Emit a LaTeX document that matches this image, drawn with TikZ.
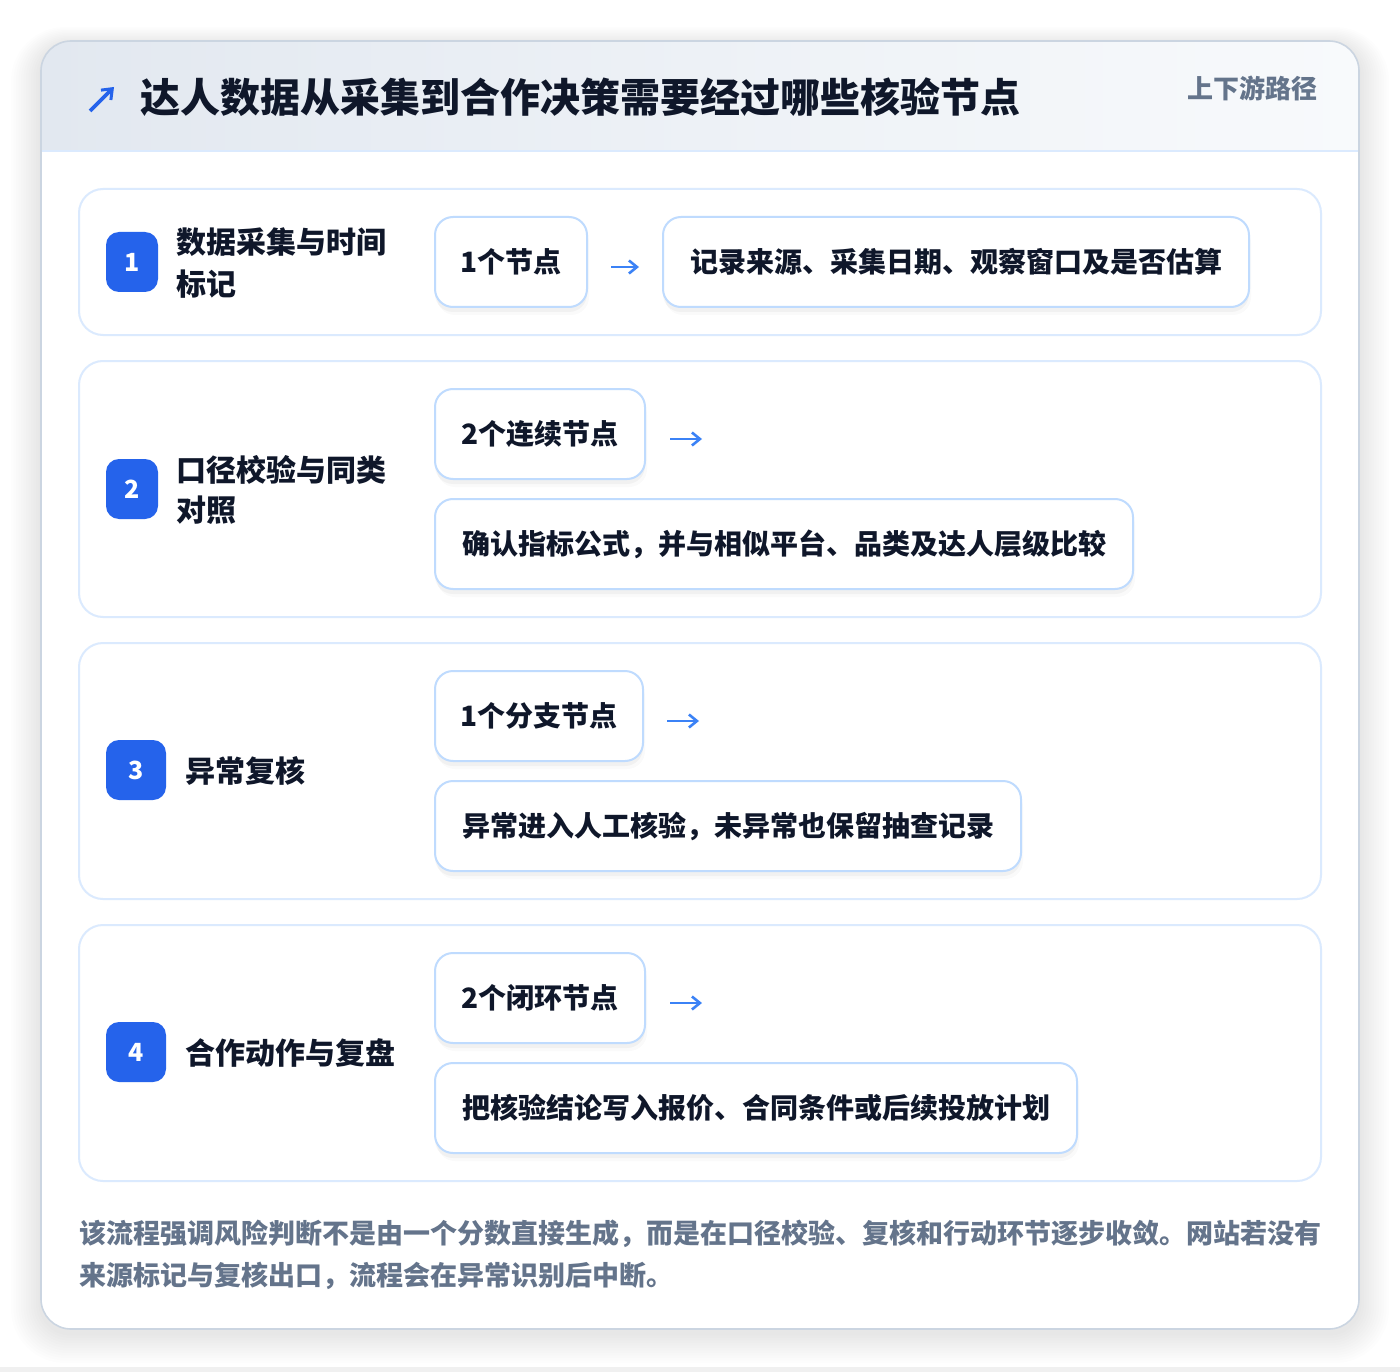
\documentclass[tikz,border=0pt]{standalone}
\usepackage{fontspec}
\setmainfont{Noto Sans CJK SC}
\usetikzlibrary{arrows.meta,shadows}
\definecolor{ink}{HTML}{0F172A}
\definecolor{slate}{HTML}{64748B}
\definecolor{brand}{HTML}{2563EB}
\definecolor{arrowblue}{HTML}{3B82F6}
\definecolor{rowline}{HTML}{DBEAFE}
\definecolor{nodeline}{HTML}{BFDBFE}
\definecolor{cardline}{HTML}{CBD5E1}
\definecolor{headl}{HTML}{E2E8F0}
\definecolor{headr}{HTML}{F8FAFC}
\tikzset{
  rowbox/.style={draw=rowline, line width=2pt, fill=white, rounded corners=24pt, inner sep=0pt},
  badge/.style={fill=brand, rounded corners=13pt, text=white, inner sep=0pt,
    font=\fontsize{25pt}{28pt}\selectfont\bfseries, minimum height=60pt},
  lbl/.style={anchor=base west, inner sep=0pt, text=ink, font=\fontsize{30pt}{36pt}\selectfont\bfseries},
  stepnode/.style={draw=nodeline, line width=2pt, fill=white, rounded corners=18pt, inner sep=0pt,
    minimum height=90pt, text=ink, font=\fontsize{28pt}{34pt}\selectfont\bfseries,
    drop shadow={shadow xshift=0pt, shadow yshift=-5pt, opacity=0.035, fill=black},
    drop shadow={shadow xshift=2pt, shadow yshift=-8pt, opacity=0.02, fill=black}},
  flowarrow/.style={draw=arrowblue, line width=2.8pt, -{Straight Barb[length=8pt,width=13pt,line width=2.6pt]}},
  foot/.style={anchor=base west, inner sep=0pt, text=slate, font=\fontsize{27pt}{32pt}\selectfont\bfseries},
}
\begin{document}
\begin{tikzpicture}[x=1pt,y=-1pt]
\useasboundingbox (0,0) rectangle (1400,1372);
\fill[white] (0,0) rectangle (1400,1372);
\fill[color=black!6] (0,1367) rectangle (1400,1372);
% card shadow
\foreach \i in {1,...,12}{
  \fill[black, opacity=0.006, rounded corners={30pt+\i*2pt}]
    (41-\i*2.5,41-\i*1.5+4) rectangle (1359+\i*2.5,1329+\i*2.5+4);
}
% card
\path[fill=white, rounded corners=30pt] (41,41) rectangle (1359,1329);
\begin{scope}
  \clip[rounded corners=30pt] (41,41) rectangle (1359,1329);
  \shade[left color=headl, right color=headr] (41,41) rectangle (1359,151);
  \draw[rowline, line width=2pt] (41,151) -- (1359,151);
\end{scope}
\draw[cardline, line width=1.6pt, rounded corners=30pt] (41,41) rectangle (1359,1329);

% header
\draw[brand, line width=3.6pt, -{Straight Barb[length=9pt,width=14pt,line width=3pt]}] (90,111) -- (114,87);
\node[anchor=base west, inner sep=0pt, text=ink, font=\fontsize{40pt}{46pt}\selectfont\bfseries] (title) at (140,113) {达人数据从采集到合作决策需要经过哪些核验节点};
\node[anchor=base east, inner sep=0pt, text=slate, font=\fontsize{26pt}{30pt}\selectfont\bfseries] (tag) at (1318,99) {上下游路径};

% rows
\node[rowbox, minimum width=1242pt, minimum height=146pt] (r1) at (700,262) {};
\node[rowbox, minimum width=1242pt, minimum height=256pt] (r2) at (700,489) {};
\node[rowbox, minimum width=1242pt, minimum height=256pt] (r3) at (700,771) {};
\node[rowbox, minimum width=1242pt, minimum height=256pt] (r4) at (700,1053) {};

% badges
\node[badge, minimum width=52pt] (b1) at (132,262) {1};
\node[badge, minimum width=52pt] (b2) at (132,489) {2};
\node[badge, minimum width=60pt] (b3) at (136,770) {3};
\node[badge, minimum width=60pt] (b4) at (136,1052) {4};

% labels
\node[lbl] (l1a) at (176,254) {数据采集与时间};
\node[lbl] (l1b) at (176,295) {标记};
\node[lbl] (l2a) at (176,481) {口径校验与同类};
\node[lbl] (l2b) at (176,521) {对照};
\node[lbl] (l3) at (185,782) {异常复核};
\node[lbl] (l4) at (185,1064) {合作动作与复盘};

% step nodes
\node[stepnode, minimum width=152pt] (n1a) at (511,262) {1个节点};
\node[stepnode, minimum width=586pt] (n1b) at (956,262) {记录来源、采集日期、观察窗口及是否估算};
\node[stepnode, minimum width=210pt] (n2a) at (540,434) {2个连续节点};
\node[stepnode, minimum width=698pt] (n2b) at (784,544) {确认指标公式，并与相似平台、品类及达人层级比较};
\node[stepnode, minimum width=208pt] (n3a) at (539,716) {1个分支节点};
\node[stepnode, minimum width=586pt] (n3b) at (728,826) {异常进入人工核验，未异常也保留抽查记录};
\node[stepnode, minimum width=210pt] (n4a) at (540,998) {2个闭环节点};
\node[stepnode, minimum width=642pt] (n4b) at (756,1108) {把核验结论写入报价、合同条件或后续投放计划};

% arrows
\draw[flowarrow] ([xshift=23pt,yshift=-5pt]n1a.east) -- ([xshift=-23pt,yshift=-5pt]n1b.west);
\coordinate (e2) at ([xshift=56pt,yshift=-5pt]n2a.east);
\coordinate (e3) at ([xshift=55pt,yshift=-5pt]n3a.east);
\coordinate (e4) at ([xshift=56pt,yshift=-5pt]n4a.east);
\draw[flowarrow] ([xshift=24pt,yshift=-5pt]n2a.east) -- (e2);
\draw[flowarrow] ([xshift=23pt,yshift=-5pt]n3a.east) -- (e3);
\draw[flowarrow] ([xshift=24pt,yshift=-5pt]n4a.east) -- (e4);

% footer
\node[foot] (f1) at (79,1243) {该流程强调风险判断不是由一个分数直接生成，而是在口径校验、复核和行动环节逐步收敛。网站若没有};
\node[foot] (f2) at (79,1285) {来源标记与复核出口，流程会在异常识别后中断。};
\end{tikzpicture}
\end{document}
